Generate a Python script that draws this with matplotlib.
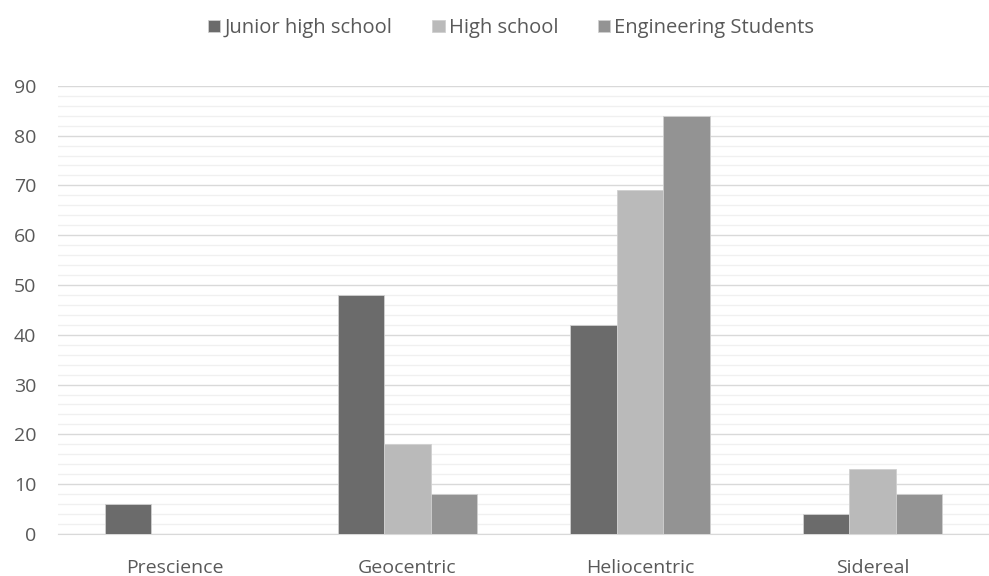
import numpy as np
import matplotlib.pyplot as plt
from matplotlib.ticker import MultipleLocator

categories = ["Prescience", "Geocentric", "Heliocentric", "Sidereal"]
junior_high = [6, 48, 42, 4]
high_school = [0, 18, 69, 13]
engineering = [0, 8, 84, 8]

series = [
    ("Junior high school", junior_high, "#6b6b6b"),
    ("High school", high_school, "#bababa"),
    ("Engineering Students", engineering, "#939393"),
]

plt.rcParams['font.family'] = ['Open Sans', 'DejaVu Sans']
text_color = "#595959"

fig = plt.figure(figsize=(9.89, 5.76), dpi=100)
ax = fig.add_axes([0.059, 0.073, 0.941, 0.778])

x = np.arange(len(categories))
width = 0.2
for i, (name, vals, color) in enumerate(series):
    ax.bar(x + (i - 1) * width, vals, width, color=color, label=name,
           edgecolor="#d0d0d0", linewidth=0.6, zorder=3)

ax.set_xlim(-0.5, len(categories) - 0.5)
ax.set_ylim(0, 90)
ax.yaxis.set_major_locator(MultipleLocator(10))
ax.yaxis.set_minor_locator(MultipleLocator(2))
ax.grid(axis="y", which="major", color="#d9d9d9", linewidth=1.0, zorder=0)
ax.grid(axis="y", which="minor", color="#f0f0f0", linewidth=1.0, zorder=0)

ax.set_xticks(x)
ax.set_xticklabels(categories)
ax.tick_params(axis="both", which="both", length=0, labelsize=14, colors=text_color)
ax.tick_params(axis="x", pad=18)
ax.tick_params(axis="y", pad=16)
for side in ["top", "right", "left"]:
    ax.spines[side].set_visible(False)
ax.spines["bottom"].set_color("#d9d9d9")

leg = fig.legend(loc="upper center", bbox_to_anchor=(0.517, 1.0), ncol=3,
                 frameon=False, fontsize=14.5, handlelength=0.6, handleheight=0.6,
                 handletextpad=0.2, columnspacing=2.0)
for t in leg.get_texts():
    t.set_color(text_color)

fig.savefig("out.png", dpi=100)
